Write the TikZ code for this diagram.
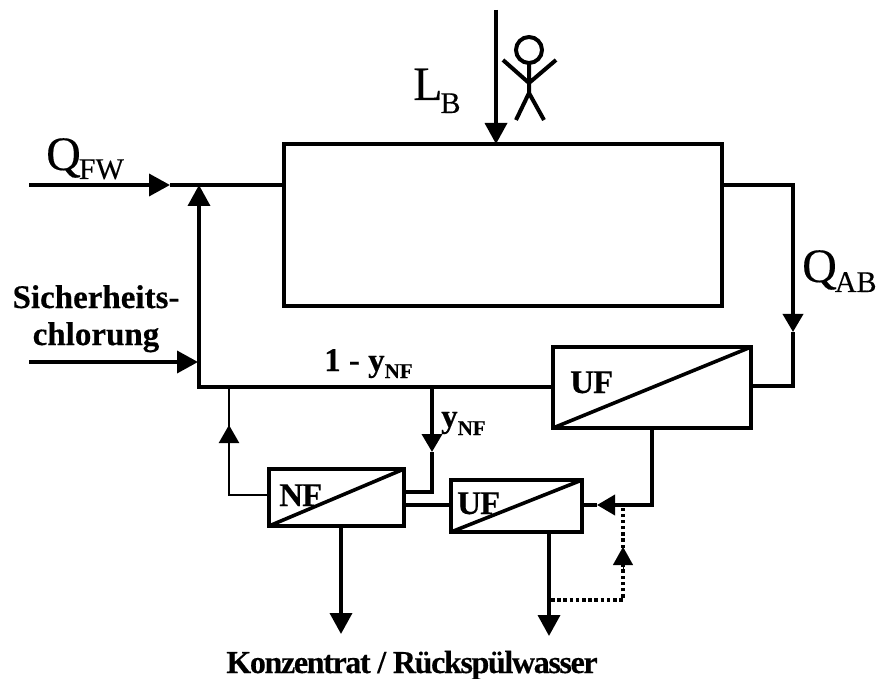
\documentclass[tikz,border=0pt]{standalone}
\usepackage{fontspec}
\setmainfont{Liberation Serif}[BoldFeatures={FakeBold=0.4}]
\usetikzlibrary{arrows.meta}
\tikzset{
  boxn/.style={draw=black,line width=3.6pt,rectangle,inner sep=0pt,outer sep=0pt,fill=white},
  line/.style={draw=black,line width=3.6pt,line cap=butt,line join=miter},
  thinline/.style={draw=black,line width=2.4pt},
  arr/.style={line,-{Triangle[length=21pt,width=22pt]}},
  arrs/.style={line,-{Triangle[length=18pt,width=20pt]}},
  dots/.style={draw=black,line width=4pt,dash pattern=on 3.5pt off 2.7pt},
  big/.style={inner sep=0pt,anchor=base west,font=\addfontfeature{FakeBold=0.3}\fontsize{48}{48}\selectfont},
  bold/.style={inner sep=0pt,anchor=base west,font=\bfseries\fontsize{33}{37}\selectfont},
  boxl/.style={inner sep=0pt,anchor=base west,font=\bfseries\addfontfeature{LetterSpace=-3}\fontsize{33}{33}\selectfont},
  tight/.style={inner sep=0pt,anchor=base,font=\bfseries\addfontfeature{LetterSpace=-4.2}\fontsize{32}{32}\selectfont},
}
\newcommand{\subbig}[2]{\kern-2pt\raisebox{-#1pt}{\fontsize{30}{30}\selectfont #2}}
\newcommand{\subb}[2]{\raisebox{-#1pt}{\fontsize{21}{21}\selectfont #2}}
\begin{document}
\begin{tikzpicture}[x=1pt,y=-1pt]
\useasboundingbox (0,0) rectangle (879,679);
% boxes
\node[boxn,minimum width=438pt,minimum height=162pt] (main) at (503,225) {};
\node[boxn,minimum width=198pt,minimum height=81pt] (ufa) at (652,387.5) {};
\node[boxn,minimum width=135pt,minimum height=57pt] (nf) at (336.5,497.5) {};
\node[boxn,minimum width=131pt,minimum height=52pt] (ufb) at (516.5,506) {};
\draw[line] (ufa.south west) -- (ufa.north east);
\draw[line] (nf.south west) -- (nf.north east);
\draw[line] (ufb.south west) -- (ufb.north east);
% coordinates
\coordinate (lbs) at (496,10);
\coordinate (lbt) at (496,144);
\coordinate (qs) at (29,185);
\coordinate (qt) at (170,185);
\coordinate (mi) at (284,185);
\coordinate (jup) at (199,185);
\coordinate (cs) at (29,362);
\coordinate (ct) at (198,362);
\coordinate (corner) at (199,387);
\coordinate (ufain) at (553,387);
\coordinate (mo) at (722,185);
\coordinate (r1) at (793,185);
\coordinate (rt) at (793,332);
\coordinate (r2) at (793,386);
\coordinate (ufao) at (751,386);
\coordinate (ufad) at (652,428);
\coordinate (ufb1) at (652,505);
\coordinate (ufbt) at (597,505);
\coordinate (ufbi) at (582,505);
\coordinate (nfufa) at (404,505);
\coordinate (nfufb) at (451,505);
\coordinate (nfo) at (404,492);
\coordinate (nfc) at (432,492);
\coordinate (nft) at (432,452);
\coordinate (nfj) at (432,387);
\coordinate (lj) at (229,387);
\coordinate (lt) at (229,425);
\coordinate (lc) at (229,495);
\coordinate (nfl) at (269,495);
\coordinate (nfd) at (341,526);
\coordinate (nfde) at (341,634);
\coordinate (ufd) at (549,532);
\coordinate (ufde) at (549,636);
\coordinate (d1) at (551,600);
\coordinate (d2) at (623,600);
\coordinate (dt) at (623,547);
\coordinate (db) at (623,570);
\coordinate (d3) at (623,508);
% connectors
\draw[arr] (lbs) -- (lbt);
\draw[arr] (qs) -- (qt);
\draw[line] (qt) -- (mi);
\draw[arr] (ufain) -- (corner) -- (jup);
\draw[arr] (cs) -- (ct);
\draw[arrs] (mo) -- (r1) -- (rt);
\draw[line] (rt) -- (r2) -- (ufao);
\draw[arrs] (ufad) -- (ufb1) -- (ufbt);
\draw[line] (ufbt) -- (ufbi);
\draw[line] (nfufa) -- (nfufb);
\draw[line] (nfo) -- (nfc) -- (nft);
\draw[arrs] (nfj) -- (nft);
\draw[thinline] (lj) -- (lc) -- (nfl);
\draw[arrs,line width=2.4pt] (lc) -- (lt);
\draw[arr] (nfd) -- (nfde);
\draw[arr] (ufd) -- (ufde);
\draw[dots] (d1) -- (d2) -- (d3);
\draw[arrs,line width=0.1pt] (db) -- (dt);
% person
\draw[line,line width=4pt] (529,50) circle (13);
\draw[line,line width=4pt] (529,63) -- (529,93) (503,60) -- (529,83) -- (556,60) (516,120) -- (529,93) -- (544,120);
% labels
\node[big] (lb) at (413,100) {L\subbig{13}{B}};
\node[big] (qfw) at (46,170) {Q\subbig{9}{FW}};
\node[big] (qab) at (802,282) {Q\subbig{10}{AB}};
\node[bold,align=center,anchor=base] (si) at (96,345) {Sicherheits-\\chlorung};
\node[bold] (ynf1) at (324,371) {1 - y\subb{7}{NF}};
\node[bold] (ynf2) at (441,427) {y\subb{8}{NF}};
\node[boxl] (ufat) at (570,393) {UF};
\node[boxl] (nft2) at (279,506) {NF};
\node[boxl] (ufbt2) at (457,514) {UF};
\node[tight] (kr) at (412,673) {Konzentrat / Rückspülwasser};
\end{tikzpicture}
\end{document}
